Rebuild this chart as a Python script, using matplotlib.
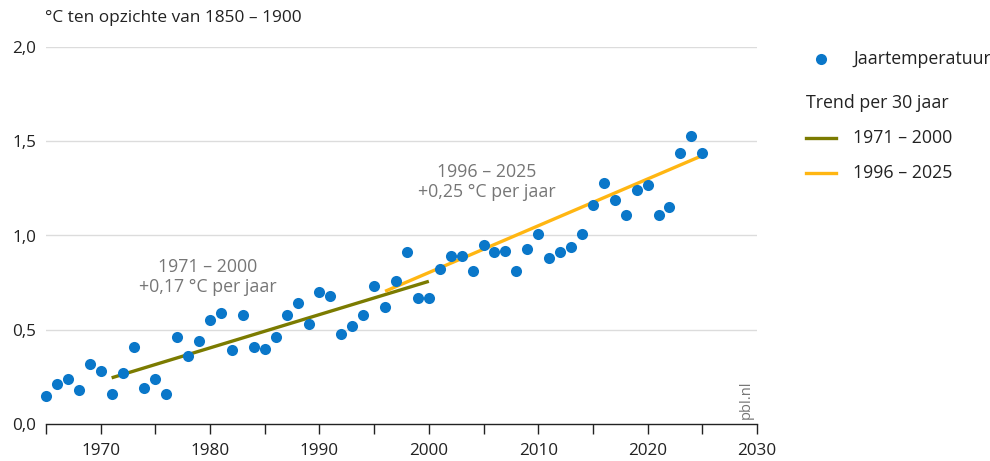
import matplotlib
matplotlib.use('Agg')
import matplotlib.pyplot as plt
from matplotlib.lines import Line2D
import numpy as np

plt.rcParams['font.family'] = ['Open Sans', 'DejaVu Sans']

# jaartemperatuur t.o.v. 1850-1900
jaren = list(range(1965, 2026))
temperatuur = [0.15, 0.21, 0.24, 0.18, 0.32, 0.28, 0.16, 0.27, 0.41, 0.19,
               0.24, 0.16, 0.46, 0.36, 0.44, 0.55, 0.59, 0.39, 0.58, 0.41,
               0.40, 0.46, 0.58, 0.64, 0.53, 0.70, 0.68, 0.48, 0.52, 0.58,
               0.73, 0.62, 0.76, 0.91, 0.67, 0.67, 0.82, 0.89, 0.89, 0.81,
               0.95, 0.91, 0.92, 0.81, 0.93, 1.01, 0.88, 0.91, 0.94, 1.01,
               1.16, 1.28, 1.19, 1.11, 1.24, 1.27, 1.11, 1.15, 1.44, 1.53,
               1.44]

# trendlijnen per 30 jaar: begin- en eindjaar, begin- en eindwaarde
trend1_jaren = [1971, 2000]
trend1_waarden = [0.245, 0.757]
trend2_jaren = [1996, 2025]
trend2_waarden = [0.704, 1.424]

y_ticks = [0.0, 0.5, 1.0, 1.5, 2.0]
y_labels = ['0,0', '0,5', '1,0', '1,5', '2,0']
x_ticks = [1970, 1980, 1990, 2000, 2010, 2020, 2030]

blauw = '#0a77c9'
groen = '#7b7b00'
geel = '#ffb612'
grijs = '#767676'
zwart = '#222222'

fig = plt.figure(figsize=(9.9, 4.61), dpi=100)
ax = fig.add_axes([46 / 990, 1 - 424 / 461, (757 - 46) / 990, (424 - 47) / 461])

ax.set_xlim(1965, 2030)
ax.set_ylim(0, 2.0)

# rasterlijnen
for v in y_ticks[1:]:
    ax.axhline(v, color='#dcdcdc', lw=1, zorder=0)

ax.plot(trend1_jaren, trend1_waarden, color=groen, lw=2.4, solid_capstyle='butt', zorder=2)
ax.plot(trend2_jaren, trend2_waarden, color=geel, lw=2.4, solid_capstyle='butt', zorder=2)
ax.scatter(jaren, temperatuur, s=64, color=blauw, linewidths=0, zorder=3, clip_on=False)

for s in ['top', 'right', 'left']:
    ax.spines[s].set_visible(False)
ax.spines['bottom'].set_color(zwart)
ax.spines['bottom'].set_linewidth(1)

ax.set_xticks(x_ticks)
ax.set_xticks(range(1965, 2031, 5), minor=True)
ax.tick_params(axis='x', which='both', length=7, width=1, color=zwart,
               labelsize=12.3, pad=7, labelcolor=zwart)
ax.set_yticks(y_ticks)
ax.set_yticklabels(y_labels)
ax.tick_params(axis='y', length=0, labelsize=12.3, pad=7, labelcolor=zwart)

fig.text(45 / 990, 1 - 18 / 461, '°C ten opzichte van 1850 – 1900', fontsize=12.4,
         color=zwart, va='center', ha='left')

# annotaties bij de trends
ax.text(1979.8, 0.782, '1971 – 2000\n+0,17 °C per jaar', fontsize=12.8, color=grijs,
        ha='center', va='center', linespacing=1.15)
ax.text(2005.3, 1.286, '1996 – 2025\n+0,25 °C per jaar', fontsize=12.8, color=grijs,
        ha='center', va='center', linespacing=1.15)

ax.text(2029.0, 0.13, 'pbl.nl', rotation=90, fontsize=10.5, color=grijs,
        ha='center', va='center')

# legenda
def fx(px):
    return px / 990

def fy(py):
    return 1 - py / 461

fig.add_artist(Line2D([fx(821)], [fy(59)], marker='o', markersize=8, color=blauw,
                      linestyle='none', markeredgewidth=0))
fig.text(fx(853), fy(59), 'Jaartemperatuur', fontsize=12.8, color=zwart, va='center')
fig.text(fx(806), fy(103), 'Trend per 30 jaar', fontsize=12.8, color=zwart, va='center')
fig.add_artist(Line2D([fx(806), fx(836)], [fy(138), fy(138)], color=groen, lw=2.4))
fig.text(fx(853), fy(138), '1971 – 2000', fontsize=12.8, color=zwart, va='center')
fig.add_artist(Line2D([fx(806), fx(836)], [fy(173), fy(173)], color=geel, lw=2.4))
fig.text(fx(853), fy(173), '1996 – 2025', fontsize=12.8, color=zwart, va='center')

fig.savefig('out.png', dpi=100)
